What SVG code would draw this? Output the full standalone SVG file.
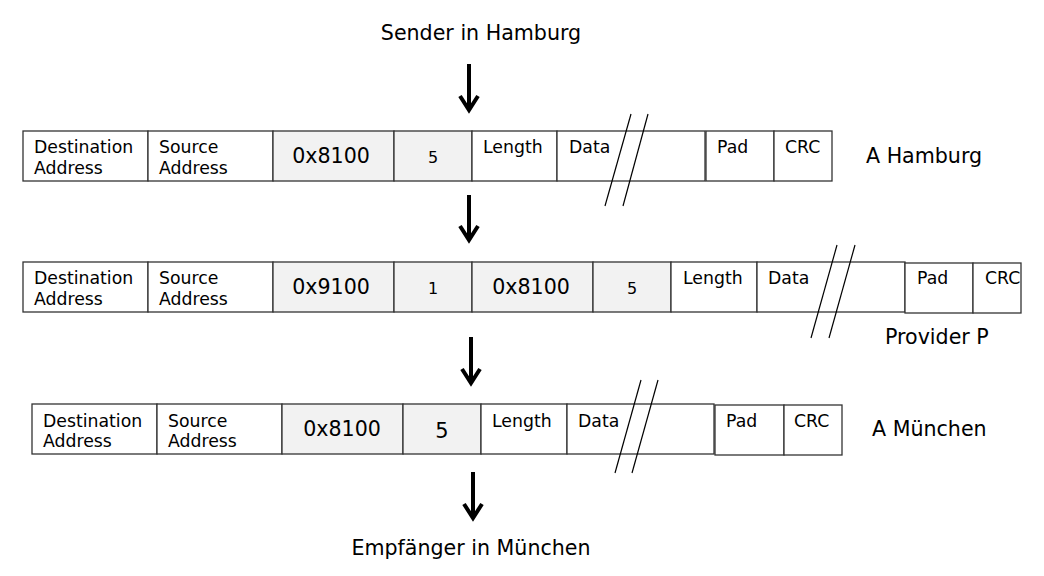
<svg xmlns="http://www.w3.org/2000/svg" width="1044" height="576" viewBox="0 0 1044 576">
<style>
text{font-family:"DejaVu Sans","Verdana",sans-serif;fill:#000}
.lbl{font-size:17.3px}
.big{font-size:20.6px}
.mid{text-anchor:middle}
.c{fill:#fff;stroke:#333;stroke-width:1.3}
.g{fill:#f2f2f2;stroke:#333;stroke-width:1.3}
.sl{stroke:#000;stroke-width:1.2;fill:none}
.arr{stroke:#000;stroke-width:4;fill:none;stroke-linejoin:miter}
</style>
<rect width="1044" height="576" fill="#fff"/>
<text class="big mid" x="481" y="40">Sender in Hamburg</text>
<text class="big mid" x="471" y="555">Empfänger in München</text>

<g id="row1">
<rect class="c" x="23" y="131" width="125" height="50"/>
<rect class="c" x="148" y="131" width="125" height="50"/>
<rect class="g" x="273" y="131" width="121" height="50"/>
<rect class="g" x="394" y="131" width="78" height="50"/>
<rect class="c" x="472" y="131" width="85" height="50"/>
<rect class="c" x="557" y="131" width="148" height="50"/>
<rect class="c" x="706" y="131" width="68" height="50"/>
<rect class="c" x="774" y="131" width="58" height="50"/>
<line class="sl" x1="631" y1="114" x2="605" y2="206"/>
<line class="sl" x1="648" y1="114" x2="623" y2="206"/>
<text class="lbl" x="34" y="153">Destination</text>
<text class="lbl" x="34" y="174">Address</text>
<text class="lbl" x="159" y="153">Source</text>
<text class="lbl" x="159" y="174">Address</text>
<text class="big mid" x="331" y="163">0x8100</text>
<text class="lbl mid" x="433" y="163" style="font-size:16px">5</text>
<text class="lbl" x="483" y="153">Length</text>
<text class="lbl" x="569" y="153">Data</text>
<text class="lbl" x="717" y="153">Pad</text>
<text class="lbl" x="785" y="153">CRC</text>
<text class="big" x="866" y="163">A Hamburg</text>
</g>

<g id="row2">
<rect class="c" x="23" y="262" width="125" height="50"/>
<rect class="c" x="148" y="262" width="125" height="50"/>
<rect class="g" x="273" y="262" width="121" height="50"/>
<rect class="g" x="394" y="262" width="78" height="50"/>
<rect class="g" x="472" y="262" width="121" height="50"/>
<rect class="g" x="593" y="262" width="78" height="50"/>
<rect class="c" x="671" y="262" width="86" height="50"/>
<rect class="c" x="757" y="262" width="148" height="50"/>
<rect class="c" x="905" y="263" width="68" height="50"/>
<rect class="c" x="973" y="263" width="48" height="50"/>
<line class="sl" x1="837" y1="245" x2="811" y2="338"/>
<line class="sl" x1="855" y1="245" x2="829" y2="338"/>
<text class="lbl" x="34" y="284">Destination</text>
<text class="lbl" x="34" y="305">Address</text>
<text class="lbl" x="159" y="284">Source</text>
<text class="lbl" x="159" y="305">Address</text>
<text class="big mid" x="331" y="294">0x9100</text>
<text class="lbl mid" x="433" y="294" style="font-size:16px">1</text>
<text class="big mid" x="531" y="294">0x8100</text>
<text class="lbl mid" x="632" y="294" style="font-size:16px">5</text>
<text class="lbl" x="683" y="284">Length</text>
<text class="lbl" x="768" y="284">Data</text>
<text class="lbl" x="917" y="284">Pad</text>
<text class="lbl" x="985" y="284">CRC</text>
<text class="big" x="885" y="344">Provider P</text>
</g>

<g id="row3">
<rect class="c" x="32" y="404" width="125" height="50"/>
<rect class="c" x="157" y="404" width="125" height="50"/>
<rect class="g" x="282" y="404" width="121" height="50"/>
<rect class="g" x="403" y="404" width="78" height="50"/>
<rect class="c" x="481" y="404" width="86" height="50"/>
<rect class="c" x="567" y="404" width="147" height="50"/>
<rect class="c" x="715" y="405" width="69" height="50"/>
<rect class="c" x="784" y="405" width="58" height="50"/>
<line class="sl" x1="641" y1="380" x2="615" y2="473"/>
<line class="sl" x1="658" y1="380" x2="632" y2="473"/>
<text class="lbl" x="43" y="427">Destination</text>
<text class="lbl" x="43" y="447">Address</text>
<text class="lbl" x="168" y="427">Source</text>
<text class="lbl" x="168" y="447">Address</text>
<text class="big mid" x="342" y="436">0x8100</text>
<text class="mid" x="442" y="438" style="font-size:21px">5</text>
<text class="lbl" x="492" y="427">Length</text>
<text class="lbl" x="578" y="427">Data</text>
<text class="lbl" x="726" y="427">Pad</text>
<text class="lbl" x="794" y="427">CRC</text>
<text class="big" x="872" y="436">A München</text>
</g>

<g id="connectors">
<path class="arr" d="M469 64V110M460 96L469 110L478 96"/>
<path class="arr" d="M469 195V240M460 226L469 240L478 226"/>
<path class="arr" d="M471 337V383M462 369L471 383L480 369"/>
<path class="arr" d="M473 472V518M464 504L473 518L482 504"/>
</g>
</svg>
